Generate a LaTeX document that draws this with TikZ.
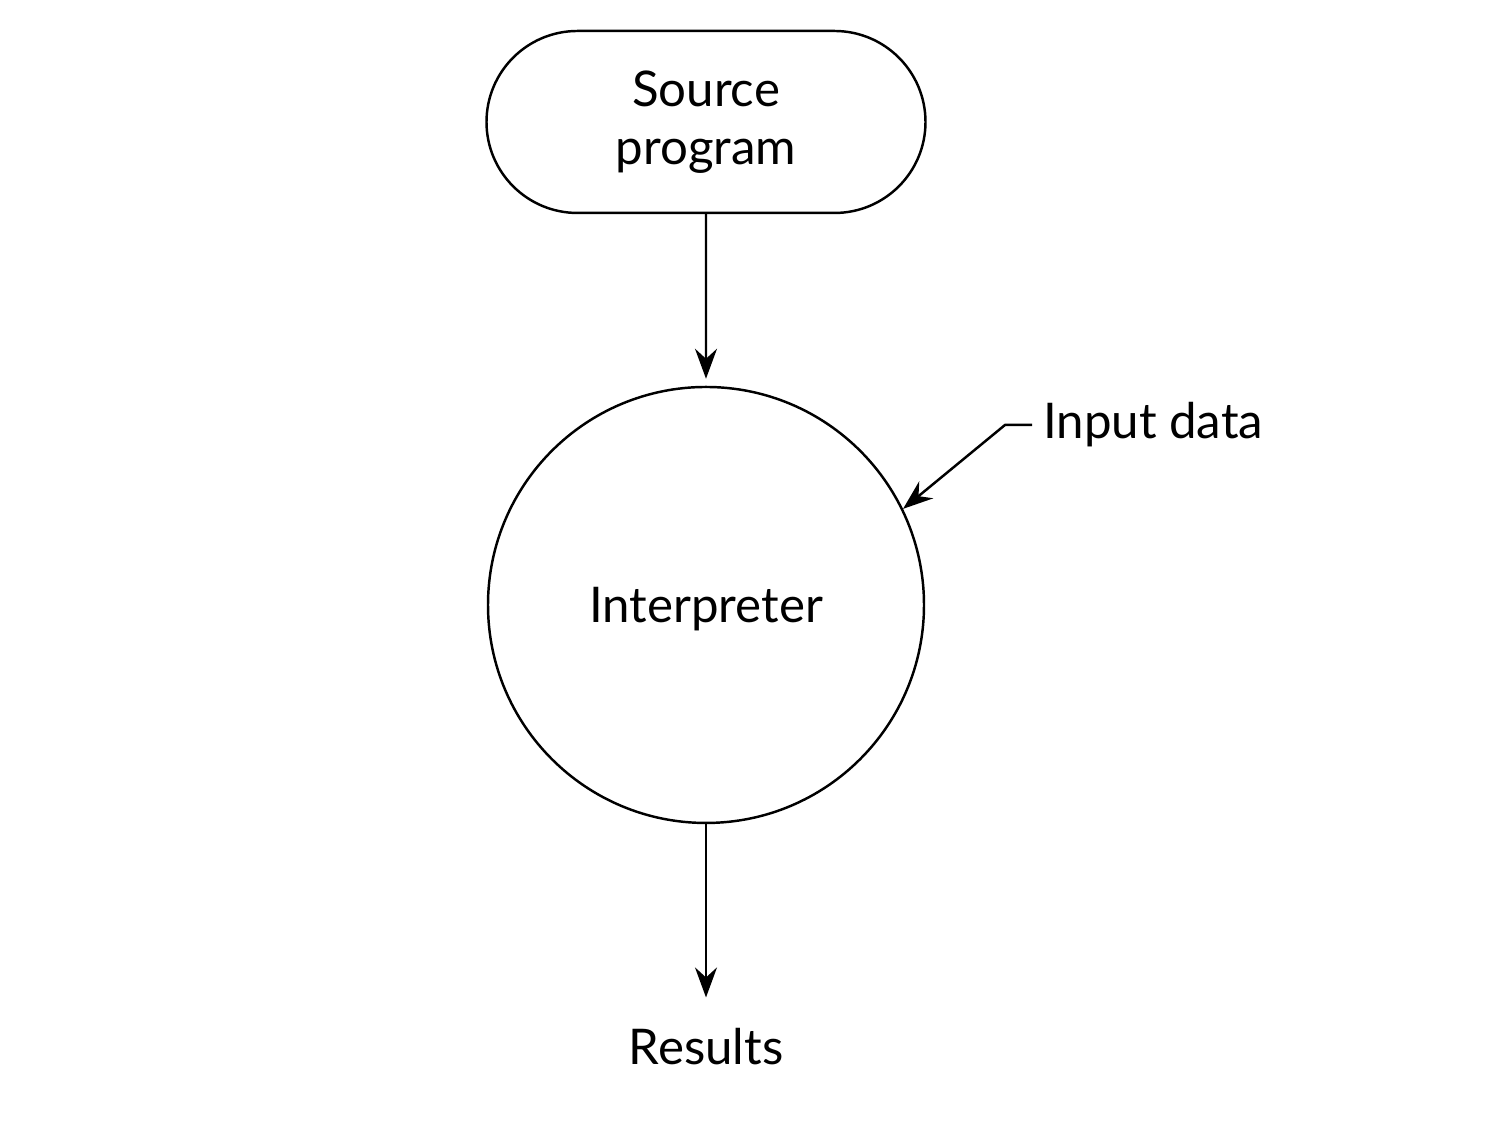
\documentclass[tikz,border=0pt]{standalone}
\usepackage{fontspec}
\setmainfont{Lato}
\usetikzlibrary{shapes,arrows.meta,positioning}

\begin{document}
\begin{tikzpicture}[font=\fontsize{14}{16.5}\selectfont, line width=0.7pt,
		flow/.style={-{Stealth[length=3mm,width=2.2mm,inset=1mm]}},
		pill/.style={draw, rounded rectangle, minimum width=4.39cm, minimum height=1.82cm, inner sep=0pt, align=center},
		blob/.style={draw, circle, minimum size=4.36cm, inner sep=0pt, text depth=0pt}]
			\useasboundingbox (0,0) rectangle (15.12,11.30);
			\node[pill] (src) at (7.06,10.08) {Source\\program};
			\node[blob] (interp) at (7.06,5.25) {Interpreter};
			\node[inner sep=0pt] (res) at (7.06,0.83) {Results};
			\node[inner sep=0pt, anchor=west] (input) at (10.42,7.05) {Input data};
			\draw [flow, shorten >=0.7mm] (src) -- (interp);
			\draw [flow, shorten >=3mm] (interp) -- (res);
			\draw [flow] ([xshift=-1mm]input.west) -- ++(-0.27,0) -- (interp.26);
		\end{tikzpicture}
\end{document}
